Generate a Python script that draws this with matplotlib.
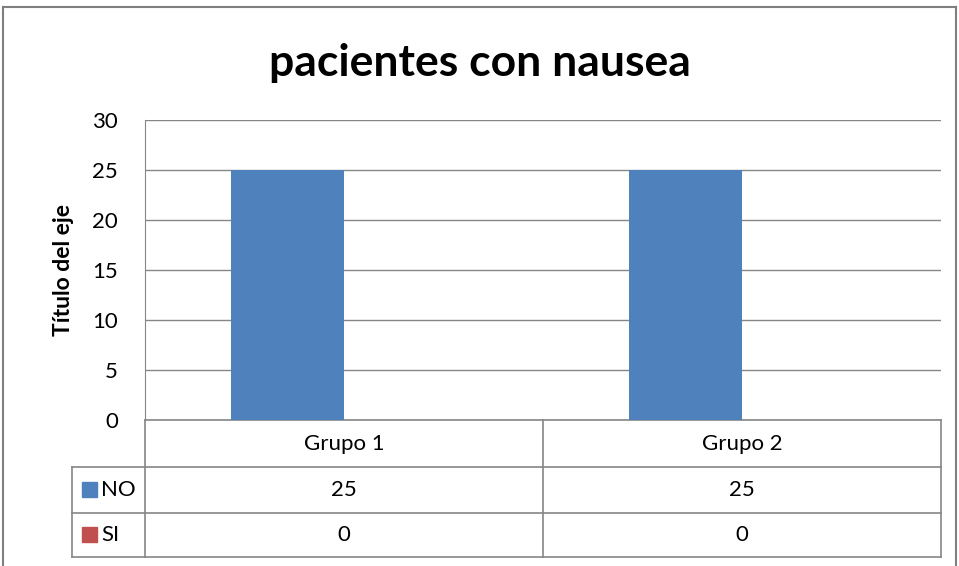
import matplotlib.pyplot as plt
import numpy as np

plt.rcParams['font.family'] = ['Lato', 'DejaVu Sans']

groups = ["Grupo 1", "Grupo 2"]
series = ["NO", "SI"]
values_no = [25, 25]
values_si = [0, 0]
colors = ["#4F81BD", "#C0504D"]
yticks = [0, 5, 10, 15, 20, 25, 30]

GRID = "#868686"

fig = plt.figure(figsize=(9.59, 5.66), dpi=100)
W, H = 959, 566
ax = fig.add_axes([145 / W, (H - 420) / H, 796 / W, 300 / H])

x = np.arange(len(groups))
width = 0.284
data = [values_no, values_si]
for i, (vals, c) in enumerate(zip(data, colors)):
    ax.bar(x + (i - 0.5) * width, vals, width, color=c, zorder=3)

ax.set_xlim(-0.5, len(groups) - 0.5)
ax.set_ylim(0, 30)
ax.set_yticks(yticks)
ax.yaxis.grid(True, color=GRID, linewidth=1, zorder=0)
ax.tick_params(axis="y", length=0, labelsize=16, pad=19.5)
ax.tick_params(axis="x", length=0, labelbottom=False)
for s in ["top", "right", "bottom"]:
    ax.spines[s].set_visible(False)
ax.spines["left"].set_color(GRID)

ax.set_ylabel("Título del eje", fontsize=16.5, fontweight="bold", labelpad=13)
fig.text(0.5, (H - 63) / H, "pacientes con nausea", ha="center", va="center",
         fontsize=32, fontweight="bold")

# data table below the plot (axes coords for y)
row_h = [0, -47 / 300, -93 / 300, -137 / 300]
left_leg = (72 - 145) / 796
tr = ax.transAxes
kw = dict(color=GRID, linewidth=1.2, transform=tr, clip_on=False)
ax.plot([0, 1], [0, 0], **kw)
for k in range(len(groups) + 1):
    xa = k / len(groups)
    ax.plot([xa, xa], [0, row_h[3]], **kw)
for yy in row_h[1:]:
    ax.plot([left_leg, 1], [yy, yy], **kw)
ax.plot([left_leg, left_leg], [row_h[1], row_h[3]], **kw)

for j, g in enumerate(groups):
    xc = (j + 0.5) / len(groups)
    ax.text(xc, (row_h[0] + row_h[1]) / 2, g, transform=tr, ha="center",
            va="center", fontsize=16)
    for r, vals in enumerate(data):
        ax.text(xc, (row_h[r + 1] + row_h[r + 2]) / 2, str(vals[j]),
                transform=tr, ha="center", va="center", fontsize=16)

for r, (name, c) in enumerate(zip(series, colors)):
    yc = (row_h[r + 1] + row_h[r + 2]) / 2
    ax.add_patch(plt.Rectangle((left_leg + 10 / 796, yc - 7 / 300), 15 / 796, 15 / 300,
                               transform=tr, color=c, clip_on=False))
    ax.text(left_leg + 29 / 796, yc, name, transform=tr, ha="left",
            va="center", fontsize=16)

# outer chart border
bc = "#7F7F7F"
fig.add_artist(plt.Line2D([3 / W, 3 / W], [0, (H - 7) / H], color=bc,
                          linewidth=1.5, transform=fig.transFigure))
fig.add_artist(plt.Line2D([3 / W, 956 / W], [(H - 7) / H, (H - 7) / H], color=bc,
                          linewidth=1.5, transform=fig.transFigure))
fig.add_artist(plt.Line2D([956 / W, 956 / W], [0, (H - 7) / H], color=bc,
                          linewidth=1.5, transform=fig.transFigure))

fig.savefig("out.png", dpi=100)
